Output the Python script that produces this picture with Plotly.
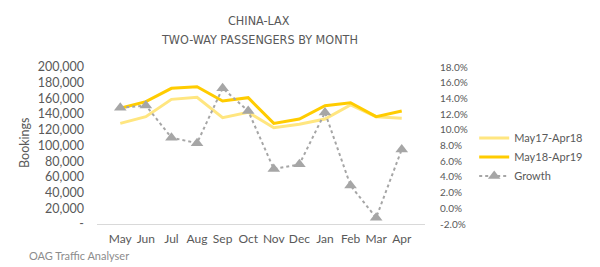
import plotly.graph_objects as go

months = ["May", "Jun", "Jul", "Aug", "Sep", "Oct", "Nov", "Dec", "Jan", "Feb", "Mar", "Apr"]
prev_year = [128200, 136700, 158800, 161400, 135400, 142300, 122700, 127000, 133800, 151600, 136700, 134600]
curr_year = [147400, 155800, 172800, 174900, 156700, 160900, 128200, 133800, 150700, 154500, 136700, 144000]
growth = [0.128, 0.131, 0.090, 0.083, 0.153, 0.124, 0.050, 0.056, 0.122, 0.029, -0.012, 0.075]

left_ticks = [0, 20000, 40000, 60000, 80000, 100000, 120000, 140000, 160000, 180000, 200000]
left_text = ["-"] + [f"{v:,}" for v in left_ticks[1:]]
right_ticks = [-0.02, 0.0, 0.02, 0.04, 0.06, 0.08, 0.10, 0.12, 0.14, 0.16, 0.18]
right_text = [f"{v*100:.1f}%" for v in right_ticks]

TXT = "#595959"
FONT = "Lato"
TITLE_FONT = "DejaVu Sans Condensed, Liberation Sans Narrow, Roboto, sans-serif"

fig = go.Figure()
fig.add_trace(go.Scatter(x=months, y=prev_year, name="May17-Apr18", mode="lines",
                         line=dict(color="#FFE680", width=3), yaxis="y"))
fig.add_trace(go.Scatter(x=months, y=curr_year, name="May18-Apr19", mode="lines",
                         line=dict(color="#FFCC00", width=3), yaxis="y"))
fig.add_trace(go.Scatter(x=months, y=growth, name="Growth", mode="lines+markers",
                         line=dict(color="#A6A6A6", width=2, dash="dot"),
                         marker=dict(symbol="triangle-up", size=11, color="#A6A6A6"),
                         yaxis="y2"))

fig.update_layout(
    width=600, height=267,
    margin=dict(l=97, r=171, t=67, b=43),
    paper_bgcolor="white", plot_bgcolor="white",
    font=dict(family=FONT, size=11, color=TXT),
    showlegend=True,
    legend=dict(x=1.15, y=0.64, xanchor="left", yanchor="top",
                font=dict(family=FONT, size=11, color=TXT),
                bgcolor="rgba(0,0,0,0)", tracegroupgap=0),
    xaxis=dict(type="category", showgrid=False, showline=True, linecolor="#D9D9D9",
               linewidth=1, ticks="", tickfont=dict(family=FONT, size=12, color=TXT),
               ticklabelstandoff=4, zeroline=False),
    yaxis=dict(range=[0, 200000], tickvals=left_ticks, ticktext=left_text,
               showgrid=False, zeroline=False, showline=False, ticks="",
               ticklabelstandoff=12, tickfont=dict(family=FONT, size=12.5, color=TXT)),
    yaxis2=dict(range=[-0.02, 0.18], tickvals=right_ticks, ticktext=right_text,
                overlaying="y", side="right", anchor="x",
                showgrid=False, zeroline=False, showline=False, ticks="",
                ticklabelstandoff=14, tickfont=dict(family=FONT, size=10, color=TXT)),
)

def px_x(x):
    return (x - 97) / (600 - 97 - 171)
def px_y(y):
    return (267 - 43 - y) / (267 - 67 - 43)

fig.add_annotation(text="CHINA-LAX", x=px_x(261), y=px_y(20), xref="paper", yref="paper",
                   xanchor="center", yanchor="middle", showarrow=False,
                   font=dict(family=TITLE_FONT, size=12.5, color=TXT))
fig.add_annotation(text="TWO-WAY PASSENGERS BY MONTH", x=px_x(261), y=px_y(39), xref="paper", yref="paper",
                   xanchor="center", yanchor="middle", showarrow=False,
                   font=dict(family=TITLE_FONT, size=12.5, color=TXT))
fig.add_annotation(text="Bookings", x=px_x(23), y=px_y(143), xref="paper", yref="paper",
                   xanchor="center", yanchor="middle", showarrow=False, textangle=-90,
                   font=dict(family=FONT, size=12.5, color=TXT))
fig.add_annotation(text="OAG Traffic Analyser", x=px_x(26), y=px_y(255), xref="paper", yref="paper",
                   xanchor="left", yanchor="middle", showarrow=False,
                   font=dict(family=FONT, size=11, color="#8C8C8C"))

fig.write_html("out.html")
